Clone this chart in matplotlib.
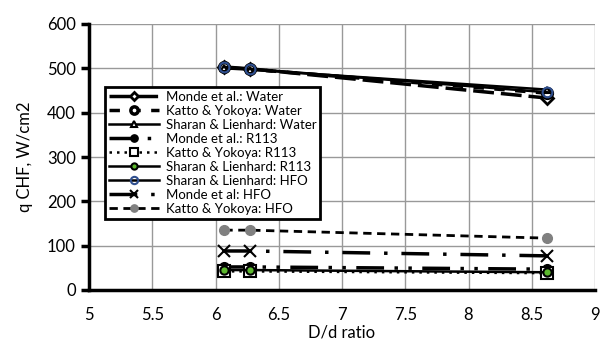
import matplotlib.pyplot as plt

# DATA
ratio = [6.07, 6.27, 8.62]

monde_water = [503, 499, 433]
katto_water = [502, 498, 444]
sharan_water = [500, 497, 452]
monde_r113 = [52, 52, 47]
katto_r113 = [42, 42, 38]
sharan_r113 = [45, 45, 40]
sharan_hfo = [503, 499, 446]
monde_hfo = [88, 88, 77]
katto_hfo = [135, 135, 117]

labels = ["Monde et al.: Water", "Katto & Yokoya: Water", "Sharan & Lienhard: Water",
          "Monde et al.: R113", "Katto & Yokoya: R113", "Sharan & Lienhard: R113",
          "Sharan & Lienhard: HFO", "Monde et al: HFO", "Katto & Yokoya: HFO"]

plt.rcParams['font.family'] = ['Lato', 'DejaVu Sans']

fig = plt.figure(figsize=(6.11, 3.45), dpi=100)
ax = fig.add_axes([89 / 611, 55 / 345, 506 / 611, 266 / 345])

# water
ax.plot(ratio, monde_water, color='black', lw=2.5, dashes=(6, 2),
        marker='D', ms=6, mfc='white', mec='black', mew=2, label=labels[0])
ax.plot(ratio, katto_water, color='black', lw=2.5, dashes=(3, 3),
        marker='o', ms=7, mfc='white', mec='black', mew=2.5, label=labels[1])
ax.plot(ratio, sharan_water, color='black', lw=1.8,
        marker='^', ms=5, mfc='white', mec='black', mew=1.5, label=labels[2])

# R113
ax.plot(ratio, monde_r113, color='black', lw=2.5, dashes=(8, 3, 1, 3, 1, 3),
        marker='o', ms=7, mfc='black', mec='black', label=labels[3])
ax.plot(ratio, katto_r113, color='black', lw=1.8, dashes=(1, 2),
        marker='s', ms=8, mfc='white', mec='black', mew=1.5, label=labels[4])
ax.plot(ratio, sharan_r113, color='black', lw=1.8,
        marker='o', ms=6, mfc='#5cb82e', mec='black', mew=1.5, label=labels[5])

# HFO
ax.plot(ratio, sharan_hfo, color='black', lw=1.8,
        marker='o', ms=7, mfc='none', mec='#2f4f8f', mew=1.5, label=labels[6])
ax.plot(ratio, monde_hfo, color='black', lw=2.5, dashes=(8, 4, 1, 4),
        marker='x', ms=8, mec='black', mew=1.5, label=labels[7])
ax.plot(ratio, katto_hfo, color='black', lw=2, dashes=(3, 2),
        marker='o', ms=7, mfc='#808080', mec='#808080', label=labels[8])

ax.set_xlim(5, 9)
ax.set_ylim(0, 600)
ax.set_xticks([5, 5.5, 6, 6.5, 7, 7.5, 8, 8.5, 9])
ax.set_xticklabels(['5', '5.5', '6', '6.5', '7', '7.5', '8', '8.5', '9'])
ax.set_yticks([0, 100, 200, 300, 400, 500, 600])
ax.grid(True, color='#999999', lw=1)
ax.set_axisbelow(True)

for side in ['top', 'right']:
    ax.spines[side].set_visible(False)
ax.spines['left'].set_linewidth(2.5)
ax.spines['bottom'].set_linewidth(2.5)
ax.tick_params(axis='y', direction='out', length=6, width=2.5, labelsize=12)
ax.tick_params(axis='x', length=0, labelsize=12, pad=12)

ax.set_xlabel("D/d ratio", fontsize=12, labelpad=1)
ax.set_ylabel("q CHF, W/cm2", fontsize=12, labelpad=10)

leg = ax.legend(loc='upper left', bbox_to_anchor=(0.032, 0.763), fontsize=9.5,
                frameon=True, fancybox=False, edgecolor='black', framealpha=1,
                handlelength=3.8, labelspacing=0.15, borderpad=0.3,
                handletextpad=0.5, borderaxespad=0, markerscale=0.75)
leg.get_frame().set_linewidth(2)

fig.savefig("out.png", dpi=100)
